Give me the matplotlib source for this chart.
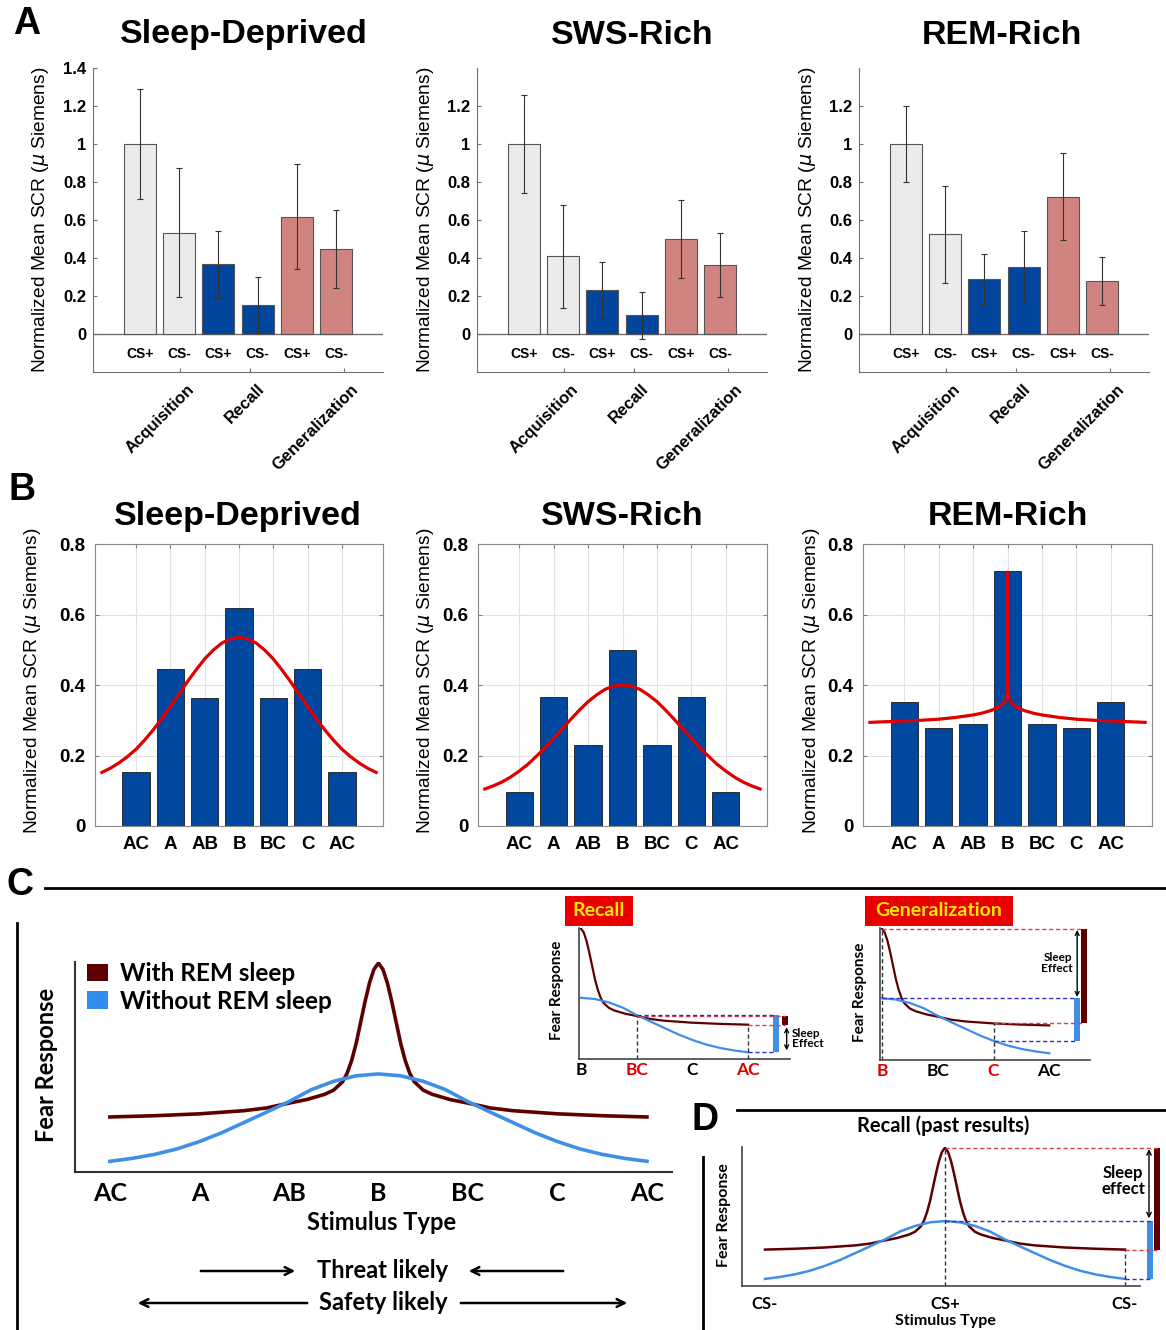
import numpy as np
import matplotlib.pyplot as plt
from matplotlib.patches import Patch, Rectangle, FancyArrowPatch

# ---- data -------------------------------------------------------------
groups = ['Acquisition', 'Recall', 'Generalization']
cs_labels = ['CS+', 'CS-', 'CS+', 'CS-', 'CS+', 'CS-']
conditions = ['Sleep-Deprived', 'SWS-Rich', 'REM-Rich']

sd_means = [1.0, 0.534, 0.366, 0.155, 0.618, 0.447]
sd_errs = [0.29, 0.34, 0.177, 0.143, 0.276, 0.207]
sws_means = [1.0, 0.409, 0.231, 0.098, 0.50, 0.364]
sws_errs = [0.256, 0.27, 0.15, 0.122, 0.204, 0.168]
rem_means = [1.0, 0.524, 0.288, 0.351, 0.722, 0.278]
rem_errs = [0.198, 0.256, 0.131, 0.19, 0.228, 0.128]

stim_labels = ['AC', 'A', 'AB', 'B', 'BC', 'C', 'AC']
sd_gen = [0.153, 0.446, 0.364, 0.619, 0.364, 0.446, 0.153]
sws_gen = [0.097, 0.366, 0.231, 0.50, 0.231, 0.366, 0.097]
rem_gen = [0.351, 0.278, 0.288, 0.722, 0.288, 0.278, 0.351]

# fitted curves, half profiles (distance from B -> value)
fit_d = [0, 0.25, 0.5, 0.75, 1, 1.25, 1.5, 1.75, 2, 2.25, 2.5, 2.75, 3, 3.25, 3.5, 3.75, 4]
sd_fit = [0.535, 0.531, 0.519, 0.499, 0.474, 0.443, 0.410, 0.374, 0.339, 0.305,
          0.273, 0.244, 0.218, 0.197, 0.179, 0.164, 0.152]
sws_fit = [0.400, 0.397, 0.388, 0.372, 0.353, 0.329, 0.303, 0.276, 0.249, 0.222,
           0.198, 0.175, 0.156, 0.139, 0.125, 0.114, 0.105]
rem_fit_d = [0, 0.005, 0.02, 0.05, 0.1, 0.15, 0.25, 0.35, 0.5, 0.75, 1, 1.5, 2, 2.5, 3, 3.5, 4]
rem_fit = [0.72, 0.42, 0.37, 0.36, 0.352, 0.345, 0.338, 0.333, 0.327, 0.320, 0.315,
           0.308, 0.303, 0.300, 0.298, 0.296, 0.294]

# schematic curves (panels C, D), half profiles from the peak
rem_d = [0, 0.05, 0.1, 0.15, 0.2, 0.25, 0.3, 0.35, 0.4, 0.5, 0.6, 0.8, 1.0, 1.25, 1.5, 2.0, 2.5, 3.0]
with_rem = [0.995, 0.965, 0.90, 0.81, 0.71, 0.61, 0.53, 0.47, 0.43, 0.39, 0.37, 0.345,
            0.328, 0.305, 0.292, 0.277, 0.268, 0.262]
norem_d = [0, 0.25, 0.5, 0.75, 1, 1.25, 1.5, 1.75, 2, 2.25, 2.5, 2.75, 3]
without_rem = [0.467, 0.458, 0.432, 0.392, 0.335, 0.285, 0.236, 0.187, 0.145, 0.110,
               0.084, 0.065, 0.051]
c_labels = ['AC', 'A', 'AB', 'B', 'BC', 'C', 'AC']
recall_labels = ['B', 'BC', 'C', 'AC']
recall_colors = ['black', '#E00000', 'black', '#E00000']
gen_colors = ['#E00000', 'black', '#E00000', 'black']
d_labels = ['CS-', 'CS+', 'CS-']

# ---- style ------------------------------------------------------------
SANS = 'Liberation Sans'
CAL = 'Lato'
GRAY_BAR = '#EBEBEB'
BLUE_BAR = '#00469E'
PINK_BAR = '#CF8480'
DARK = '#5E0000'
LIGHT = '#3F8FE6'
RED = '#E00000'
plt.rcParams['font.family'] = SANS

W, H = 1166, 1330
fig = plt.figure(figsize=(W / 100, H / 100), dpi=100)


def px_axes(l, t, r, b):
    return fig.add_axes([l / W, 1 - b / H, (r - l) / W, (b - t) / H])


def fxy(x, y):
    return (x / W, 1 - y / H)


def mirror(d, v, c):
    d = np.asarray(d, float)
    v = np.asarray(v, float)
    return np.concatenate([c - d[::-1], c + d[1:]]), np.concatenate([v[::-1], v[1:]])


def at(d, v, x):
    return float(np.interp(x, d, v))


# panel letters
for lab, x, y in [('A', 27, 24), ('B', 22, 490), ('C', 20, 885), ('D', 705, 1120)]:
    fig.text(*fxy(x, y), lab, fontsize=27, fontweight='bold', ha='center', va='center')

# ---- panel A ----------------------------------------------------------
bar_colors = [GRAY_BAR] * 2 + [BLUE_BAR] * 2 + [PINK_BAR] * 2
xpos = np.arange(1, 7)
a_specs = [(93, 383, 244, sd_means, sd_errs, 1.4),
           (477, 767, 632, sws_means, sws_errs, 1.2),
           (859, 1149, 1002, rem_means, rem_errs, 1.2)]
for (l, r, tx, means, errs, ytop), title in zip(a_specs, conditions):
    ax = px_axes(l, 68, r, 372)
    ax.bar(xpos, means, width=0.82, color=bar_colors, edgecolor='#555555', linewidth=0.8, zorder=2)
    ax.errorbar(xpos, means, yerr=errs, fmt='none', ecolor='#333333', elinewidth=0.8,
                capsize=2, capthick=0.8, zorder=3)
    ax.axhline(0, color='#707070', lw=1, zorder=1)
    ax.set_xlim(-0.2, 7.2)
    ax.set_ylim(-0.2, 1.4)
    for s in ['top', 'right']:
        ax.spines[s].set_visible(False)
    for s in ['left', 'bottom']:
        ax.spines[s].set_color('#707070')
    yt = np.round(np.arange(0, ytop + 0.01, 0.2), 1)
    ax.set_yticks(yt)
    ax.set_yticklabels(['%g' % v for v in yt], fontweight='bold', fontsize=12)
    ax.set_xticks([2.02, 3.81, 6.2])
    ax.set_xticklabels([])
    ax.tick_params(direction='in', length=3, color='#707070', pad=5)
    for x, lab in zip(xpos, cs_labels):
        ax.text(x, -0.105, lab, ha='center', va='center', fontsize=10, fontweight='bold')
    for x, lab in zip([2.02, 3.81, 6.2], groups):
        ax.text(x + 0.18, -0.25, lab, rotation=45, ha='right', va='top',
                rotation_mode='anchor', fontsize=12, fontweight='bold', clip_on=False)
    fig.text(*fxy(tx, 35), title, fontsize=24.5, fontweight='bold', ha='center', va='center')
    fig.text(*fxy(l - 52, 220), 'Normalized Mean SCR ($\\mu$ Siemens)', rotation=90,
             fontsize=13.8, ha='center', va='center')

# ---- panel B ----------------------------------------------------------
b_specs = [(95, 383, 238, 33, sd_gen, fit_d, sd_fit),
           (478, 767, 622, 425, sws_gen, fit_d, sws_fit),
           (863, 1152, 1008, 811, rem_gen, rem_fit_d, rem_fit)]
gx = np.arange(1, 8)
for (l, r, tx, lx, vals, fd, fv), title in zip(b_specs, conditions):
    ax = px_axes(l, 544, r, 826)
    ax.set_axisbelow(True)
    ax.grid(True, color='#E2E2E2', lw=0.8)
    ax.bar(gx, vals, width=0.8, color='#0047A0', edgecolor='#1A1A1A', linewidth=0.6, zorder=2)
    cx, cy = mirror(fd, fv, 4)
    ax.plot(cx, cy, color=RED, lw=2.3, zorder=3, solid_joinstyle='round')
    ax.set_xlim(-0.2, 8.2)
    ax.set_ylim(0, 0.8)
    ax.set_xticks(gx)
    ax.set_xticklabels(stim_labels, fontweight='bold', fontsize=13.5)
    yt = [0, 0.2, 0.4, 0.6, 0.8]
    ax.set_yticks(yt)
    ax.set_yticklabels(['%g' % v for v in yt], fontweight='bold', fontsize=13.5)
    ax.tick_params(direction='in', length=3, color='#808080', top=True, right=True, pad=7)
    for s in ax.spines.values():
        s.set_color('#8A8A8A')
    fig.text(*fxy(tx, 517), title, fontsize=24.5, fontweight='bold', ha='center', va='center')
    fig.text(*fxy(lx, 681), 'Normalized Mean SCR ($\\mu$ Siemens)', rotation=90,
             fontsize=13.8, ha='center', va='center')

# ---- panel C ----------------------------------------------------------
fig.add_artist(plt.Line2D([45 / W, 1], [fxy(0, 888)[1]] * 2, color='black', lw=2))
fig.add_artist(plt.Line2D([17 / W] * 2, [fxy(0, 923)[1], 0], color='black', lw=2))

axc = px_axes(75, 962, 672, 1172)
rx, ry = mirror(rem_d, with_rem, 3)
bx, by = mirror(norem_d, without_rem, 3)
axc.plot(rx, ry, color=DARK, lw=2.6)
axc.plot(bx, by, color=LIGHT, lw=2.6)
axc.set_xlim(-0.39, 6.28)
axc.set_ylim(0, 1)
for s in ['top', 'right']:
    axc.spines[s].set_visible(False)
for s in ['left', 'bottom']:
    axc.spines[s].set_color('#333333')
    axc.spines[s].set_linewidth(1.5)
axc.set_yticks([])
axc.set_xticks(range(7))
axc.set_xticklabels(c_labels, family=CAL, fontweight='bold', fontsize=18)
axc.tick_params(length=0, pad=7)
fig.text(*fxy(47, 1065), 'Fear Response', rotation=90, family=CAL, fontweight='bold',
         fontsize=17, ha='center', va='center')
fig.text(*fxy(382, 1223), 'Stimulus Type', family=CAL, fontweight='bold', fontsize=17,
         ha='center', va='center')
fig.legend(handles=[Patch(facecolor=DARK), Patch(facecolor='#2F8DF0')],
           labels=['With REM sleep', 'Without REM sleep'], loc='upper left',
           bbox_to_anchor=fxy(87, 962), frameon=False, handlelength=0.85, handleheight=0.75,
           handletextpad=0.5, labelspacing=0.2, borderpad=0, borderaxespad=0,
           prop={'family': CAL, 'weight': 'bold', 'size': 17.5})

fig.text(*fxy(383, 1270), 'Threat likely', family=CAL, fontweight='bold', fontsize=17,
         ha='center', va='center')
fig.text(*fxy(383, 1303), 'Safety likely', family=CAL, fontweight='bold', fontsize=17,
         ha='center', va='center')
for a, b, y in [(198, 298, 1271), (566, 466, 1271), (310, 135, 1303), (458, 630, 1303)]:
    fig.add_artist(FancyArrowPatch(fxy(a, y), fxy(b, y), arrowstyle='->', mutation_scale=14,
                                   lw=1.8, color='black', transform=fig.transFigure))


def red_box(l, r, text):
    t0, t1 = fxy(l, 896)[1], fxy(l, 926)[1]
    fig.add_artist(Rectangle((l / W, t1), (r - l) / W, t0 - t1, facecolor='#E80000',
                             edgecolor='none', transform=fig.transFigure))
    fig.text(((l + r) / 2) / W, (t0 + t1) / 2, text, color='#FFE800', family=CAL,
             fontweight='bold', fontsize=14, ha='center', va='center')


def inset_axes(l, t, r, b, xmax, colors):
    ax = px_axes(l, t, r, b)
    ax.plot(rem_d, with_rem, color=DARK, lw=1.6)
    ax.plot(norem_d, without_rem, color=LIGHT, lw=1.6)
    ax.set_xlim(-0.036, xmax)
    ax.set_ylim(0, 1)
    for s in ['top', 'right']:
        ax.spines[s].set_visible(False)
    for s in ['left', 'bottom']:
        ax.spines[s].set_color('#444444')
        ax.spines[s].set_linewidth(1.2)
    ax.set_yticks([])
    ax.set_xticks(range(4))
    ax.set_xticklabels(recall_labels, family=CAL, fontweight='bold', fontsize=12.5)
    for tl, c in zip(ax.get_xticklabels(), colors):
        tl.set_color(c)
    ax.tick_params(length=0, pad=2)
    return ax


def dash(ax, x0, x1, y, c):
    ax.plot([x0, x1], [y, y], ls=(0, (3, 2)), color=c, lw=1, clip_on=False)


# Recall inset
red_box(565, 633, 'Recall')
axr = inset_axes(579, 928, 790, 1059, 3.75, recall_colors)
fig.text(*fxy(557, 990), 'Fear Response', rotation=90, family=CAL, fontweight='bold',
         fontsize=11, ha='center', va='center')
r_bc, b_bc = at(rem_d, with_rem, 1), at(norem_d, without_rem, 1)
r_ac, b_ac = at(rem_d, with_rem, 3), at(norem_d, without_rem, 3)
axr.plot([1, 1], [0, max(r_bc, b_bc)], ls=(0, (3, 2)), color='#333333', lw=1)
axr.plot([3, 3], [0, r_ac], ls=(0, (3, 2)), color='#333333', lw=1)
dash(axr, 1, 3.66, r_bc, '#E04040')
dash(axr, 1, 3.5, b_bc, '#3030D0')
dash(axr, 3, 3.66, r_ac, '#E04040')
dash(axr, 3, 3.5, b_ac, '#3030D0')
axr.bar(3.5, b_bc - b_ac, bottom=b_ac, width=0.11, color=LIGHT, clip_on=False)
axr.bar(3.66, r_bc - r_ac, bottom=r_ac, width=0.11, color=DARK, clip_on=False)
axr.annotate('', xy=(3.69, b_ac + 0.015), xytext=(3.69, r_ac - 0.02),
             arrowprops=dict(arrowstyle='<->', lw=1, color='black', shrinkA=0, shrinkB=0,
                             mutation_scale=7), annotation_clip=False)
axr.text(3.78, (r_ac + b_ac) / 2, 'Sleep\nEffect', family=CAL, fontweight='bold', fontsize=8.5,
         ha='left', va='center', linespacing=0.95, clip_on=False)

# Generalization inset
red_box(865, 1013, 'Generalization')
axg = inset_axes(880, 928, 1090, 1060, 3.73, gen_colors)
fig.text(*fxy(860, 992), 'Fear Response', rotation=90, family=CAL, fontweight='bold',
         fontsize=11, ha='center', va='center')
r_pk, b_pk = with_rem[0], without_rem[0]
r_c, b_c = at(rem_d, with_rem, 2), at(norem_d, without_rem, 2)
axg.plot([0, 0], [0, r_pk], ls=(0, (3, 2)), color='#333333', lw=1)
axg.plot([2, 2], [0, r_c], ls=(0, (3, 2)), color='#333333', lw=1)
dash(axg, 0, 3.62, r_pk, '#E04040')
dash(axg, 0, 3.5, b_pk, '#3030D0')
dash(axg, 2, 3.62, r_c, '#E04040')
dash(axg, 2, 3.5, b_c, '#3030D0')
axg.bar(3.5, b_pk - b_c, bottom=b_c, width=0.11, color=LIGHT, clip_on=False)
axg.bar(3.63, r_pk - r_c, bottom=r_c, width=0.11, color=DARK, clip_on=False)
axg.annotate('', xy=(3.5, b_pk + 0.01), xytext=(3.5, r_pk - 0.01),
             arrowprops=dict(arrowstyle='<->', lw=1, color='black', shrinkA=0, shrinkB=0,
                             mutation_scale=7), annotation_clip=False)
axg.text(3.42, 0.735, 'Sleep\nEffect', family=CAL, fontweight='bold', fontsize=8.5,
         ha='right', va='center', linespacing=0.95)

# ---- panel D ----------------------------------------------------------
fig.add_artist(plt.Line2D([737 / W, 1], [fxy(0, 1110)[1]] * 2, color='black', lw=2))
fig.add_artist(plt.Line2D([703 / W] * 2, [fxy(0, 1157)[1], 0], color='black', lw=2))
fig.text(*fxy(943, 1126), 'Recall (past results)', family=CAL, fontweight='bold',
         fontsize=14.5, ha='center', va='center')

axd = px_axes(742, 1147, 1140, 1286)
axd.plot(rx, ry, color=DARK, lw=1.8)
axd.plot(bx, by, color=LIGHT, lw=1.8)
axd.set_xlim(-0.383, 6.25)
axd.set_ylim(0, 1)
for s in ['top', 'right']:
    axd.spines[s].set_visible(False)
for s in ['left', 'bottom']:
    axd.spines[s].set_color('#444444')
    axd.spines[s].set_linewidth(1.2)
axd.set_yticks([])
axd.set_xticks([0, 3, 6])
axd.set_xticklabels(d_labels, family=CAL, fontweight='bold', fontsize=12)
axd.tick_params(length=0, pad=7)
fig.text(*fxy(945, 1321), 'Stimulus Type', family=CAL, fontweight='bold', fontsize=11.5,
         ha='center', va='center')
fig.text(*fxy(724, 1215), 'Fear Response', rotation=90, family=CAL, fontweight='bold',
         fontsize=11.5, ha='center', va='center')
r_edge, b_edge = with_rem[-1], without_rem[-1]
axd.plot([3, 3], [0, r_pk], ls=(0, (3, 2)), color='#333333', lw=1)
axd.plot([6, 6], [0, r_edge], ls=(0, (3, 2)), color='#333333', lw=1)
dash(axd, 3, 6.58, r_pk, '#E04040')
dash(axd, 3, 6.45, b_pk, '#3030D0')
dash(axd, 6, 6.58, r_edge, '#E04040')
dash(axd, 6, 6.45, b_edge, '#3030D0')
axd.bar(6.42, b_pk - b_edge, bottom=b_edge, width=0.1, color=LIGHT, clip_on=False)
axd.bar(6.53, r_pk - r_edge, bottom=r_edge, width=0.1, color=DARK, clip_on=False)
axd.annotate('', xy=(6.4, b_pk + 0.02), xytext=(6.4, r_pk - 0.01),
             arrowprops=dict(arrowstyle='<->', lw=1, color='black', shrinkA=0, shrinkB=0,
                             mutation_scale=8), annotation_clip=False)
axd.text(5.97, 0.755, 'Sleep\neffect', family=CAL, fontweight='bold', fontsize=12,
         ha='center', va='center', linespacing=0.95)

fig.savefig('out.png', dpi=100)
